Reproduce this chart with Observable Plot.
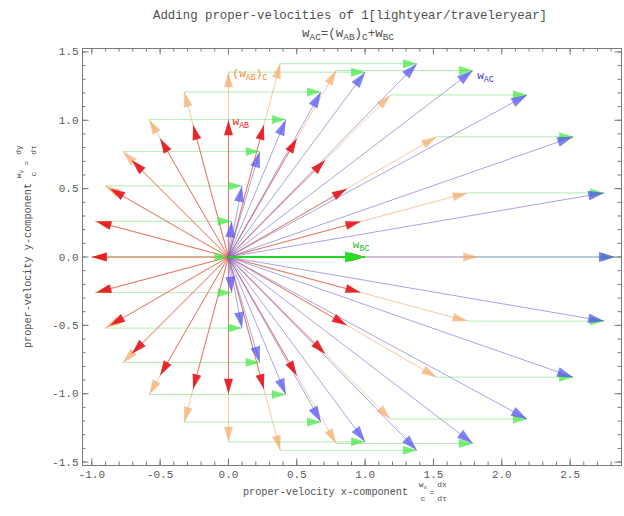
<!DOCTYPE html>
<html><head><meta charset="utf-8">
<script src="https://cdn.jsdelivr.net/npm/d3@7"></script>
<script src="https://cdn.jsdelivr.net/npm/@observablehq/plot@0.6"></script>
<style>
html,body{margin:0;padding:0;background:#fff;}
#chart{width:624px;height:516px;}
</style></head><body><div id="chart"></div>
<script>
// ---- data ----
const angles  = [0,15,30,45,60,75,90,105,120,135,150,165,180,195,210,225,240,255,270,285,300,315,330,345];
// w_AB : red arrows
const redX    = [1,0.966,0.866,0.707,0.5,0.259,0,-0.259,-0.5,-0.707,-0.866,-0.966,-1,-0.966,-0.866,-0.707,-0.5,-0.259,0,0.259,0.5,0.707,0.866,0.966];
const redY    = [0,0.259,0.5,0.707,0.866,0.966,1,0.966,0.866,0.707,0.5,0.259,0,-0.259,-0.5,-0.707,-0.866,-0.966,-1,-0.966,-0.866,-0.707,-0.5,-0.259];
// (w_AB)_C : orange arrows
const orangeX = [1.828,1.749,1.522,1.185,0.788,0.379,0,-0.323,-0.580,-0.771,-0.901,-0.976,-1,-0.976,-0.901,-0.771,-0.580,-0.323,0,0.379,0.788,1.185,1.522,1.749];
const orangeY = [0,0.469,0.879,1.185,1.364,1.414,1.352,1.207,1.005,0.771,0.520,0.261,0,-0.261,-0.520,-0.771,-1.005,-1.207,-1.352,-1.414,-1.364,-1.185,-0.879,-0.469];
// w_AC : blue arrows
const blueX   = [2.828,2.749,2.522,2.185,1.788,1.379,1,0.677,0.420,0.229,0.099,0.024,0,0.024,0.099,0.229,0.420,0.677,1,1.379,1.788,2.185,2.522,2.749];
const blueY   = [0,0.469,0.879,1.185,1.364,1.414,1.352,1.207,1.005,0.771,0.520,0.261,0,-0.261,-0.520,-0.771,-1.005,-1.207,-1.352,-1.414,-1.364,-1.185,-0.879,-0.469];
// w_BC : main green arrow
const originX = 0, originY = 0;
const wBCx = [1], wBCy = [0];
// labels
const labelText = ["w_{AB}", "(w_{AB})_{C}", "w_{AC}", "w_{BC}"];
const labelX    = [0.03, 0.03, 1.82, 0.91];
const labelY    = [0.99, 1.34, 1.33, 0.09];
const labelColor= ["#e01818", "#f08a30", "#3a3ad8", "#22bb22"];
// ticks
const xMajor = [-1, -0.5, 0, 0.5, 1, 1.5, 2, 2.5];
const yMajor = [-1.5, -1, -0.5, 0, 0.5, 1, 1.5];
const xMinor = [-1.0,-0.9,-0.8,-0.7,-0.6,-0.5,-0.4,-0.3,-0.2,-0.1,0,0.1,0.2,0.3,0.4,0.5,0.6,0.7,0.8,0.9,1.0,1.1,1.2,1.3,1.4,1.5,1.6,1.7,1.8,1.9,2.0,2.1,2.2,2.3,2.4,2.5,2.6,2.7,2.8];
const yMinor = [-1.5,-1.4,-1.3,-1.2,-1.1,-1.0,-0.9,-0.8,-0.7,-0.6,-0.5,-0.4,-0.3,-0.2,-0.1,0,0.1,0.2,0.3,0.4,0.5,0.6,0.7,0.8,0.9,1.0,1.1,1.2,1.3,1.4,1.5];
const titleText = "Adding proper-velocities of 1[lightyear/traveleryear]";
const subtitleText = "w_{AC}=(w_{AB})_{C}+w_{BC}";
const xLabelText = "proper-velocity x-component";
const yLabelText = "proper-velocity y-component";

// ---- layout ----
const W = 624, H = 516, mL = 82, mR = 3, mT = 48, mB = 51;
const iw = W - mL - mR, ih = H - mT - mB;
const xDomain = [-1.068, 2.876], yDomain = [-1.525, 1.525];
const kx = iw / (xDomain[1] - xDomain[0]), ky = ih / (yDomain[1] - yDomain[0]);
const rot = (dx, dy) => Math.atan2(-dy * ky, dx * kx) * 180 / Math.PI;

function head(L, Wd) {
  return {draw(ctx) { ctx.moveTo(0, 0); ctx.lineTo(-L, -Wd / 2); ctx.lineTo(-L, Wd / 2); ctx.closePath(); }};
}

const rows = angles.map((a, i) => ({a, rx: redX[i], ry: redY[i], ox: orangeX[i], oy: orangeY[i], bx: blueX[i], by: blueY[i]}));
const blueRows = rows.filter(d => Math.hypot(d.bx, d.by) > 1e-6);
const mainRows = wBCx.map((x, i) => ({x, y: wBCy[i]}));
const labels = labelText.map((t, i) => ({t, x: labelX[i], y: labelY[i], c: labelColor[i]}));

const gray = "#7a7a7a";
const fmt = d => d.toFixed(1);

const chart = Plot.plot({
  width: W, height: H,
  marginLeft: mL, marginRight: mR, marginTop: mT, marginBottom: mB,
  style: {fontFamily: "'Liberation Mono', 'DejaVu Sans Mono', monospace", fontSize: "11px", color: "#5a5a5a", background: "#fff"},
  x: {domain: xDomain, ticks: xMajor, tickFormat: fmt, tickSize: 0, tickPadding: 5, label: null},
  y: {domain: yDomain, ticks: yMajor, tickFormat: fmt, tickSize: 0, tickPadding: 4, label: null},
  marks: [
    // shafts
    Plot.link(rows, {x1: d => originX, y1: d => originY, x2: "ox", y2: "oy", stroke: "#f2a766", strokeOpacity: 0.6, strokeWidth: 1}),
    Plot.link(rows, {x1: "ox", y1: "oy", x2: "bx", y2: "by", stroke: "#6fe06f", strokeOpacity: 0.55, strokeWidth: 1}),
    Plot.link(rows, {x1: d => originX, y1: d => originY, x2: "rx", y2: "ry", stroke: "#e03a3a", strokeOpacity: 0.6, strokeWidth: 1}),
    Plot.link(blueRows, {x1: d => originX, y1: d => originY, x2: "bx", y2: "by", stroke: "#6a6ad8", strokeOpacity: 0.6, strokeWidth: 1}),
    // heads
    Plot.dot(rows, {x: "ox", y: "oy", symbol: head(15, 9), r: 5, fill: "#f3a560", fillOpacity: 0.65, rotate: d => rot(d.ox, d.oy)}),
    Plot.dot(rows, {x: "rx", y: "ry", symbol: head(15, 9), r: 5, fill: "#e4141a", fillOpacity: 0.9, rotate: d => rot(d.rx, d.ry)}),
    Plot.dot(rows, {x: "bx", y: "by", symbol: head(14, 9), r: 5, fill: "#3ee83e", fillOpacity: 0.7, rotate: d => 0}),
    Plot.dot(blueRows, {x: "bx", y: "by", symbol: head(16, 10), r: 5, fill: "#4f4ff0", fillOpacity: 0.7, rotate: d => rot(d.bx, d.by)}),
    // main w_BC
    Plot.link(mainRows, {x1: d => originX, y1: d => originY, x2: "x", y2: "y", stroke: "#22d622", strokeWidth: 2}),
    Plot.dot(mainRows, {x: "x", y: "y", symbol: head(20, 11), r: 5, fill: "#22e022", rotate: d => rot(d.x, d.y)}),
    // labels
    Plot.text(labels, {x: "x", y: "y", text: "t", fill: "c", textAnchor: "start", fontSize: 11}),
    // frame + ticks (inward, all four sides)
    Plot.frame({stroke: gray}),
    Plot.ruleX(xMinor, {stroke: gray, insetTop: ih - 3.5}),
    Plot.ruleX(xMinor, {stroke: gray, insetBottom: ih - 3.5}),
    Plot.ruleX(xMajor, {stroke: gray, insetTop: ih - 6.5}),
    Plot.ruleX(xMajor, {stroke: gray, insetBottom: ih - 6.5}),
    Plot.ruleY(yMinor, {stroke: gray, insetRight: iw - 3.5}),
    Plot.ruleY(yMinor, {stroke: gray, insetLeft: iw - 3.5}),
    Plot.ruleY(yMajor, {stroke: gray, insetRight: iw - 6.5}),
    Plot.ruleY(yMajor, {stroke: gray, insetLeft: iw - 6.5})
  ]
});

const NS = "http://www.w3.org/2000/svg";
function subscriptify(el, shift) {
  const s = el.textContent;
  if (!s.includes("_{")) return;
  const parts = s.split(/(_\{[^}]*\})/).filter(p => p);
  el.textContent = "";
  let down = false;
  for (const p of parts) {
    const t = document.createElementNS(NS, "tspan");
    if (p.startsWith("_{")) {
      t.textContent = p.slice(2, -1);
      t.setAttribute("font-size", "75%");
      if (!down) t.setAttribute("dy", shift);
      down = true;
    } else {
      t.textContent = p;
      if (down) t.setAttribute("dy", -shift);
      down = false;
    }
    el.appendChild(t);
  }
}
const svg = chart.tagName.toLowerCase() === "svg" ? chart : chart.querySelector("svg");
svg.querySelectorAll("text").forEach(el => subscriptify(el, 3));

function addText(str, attrs) {
  const t = document.createElementNS(NS, "text");
  t.textContent = str;
  for (const k in attrs) if (k !== "shift") t.setAttribute(k, attrs[k]);
  svg.appendChild(t);
  subscriptify(t, attrs.shift || 3);
  return t;
}
const mono = "'Liberation Mono', 'DejaVu Sans Mono', monospace";
const tc = "#505050";
addText(titleText, {x: 350, y: 19, "text-anchor": "middle", "font-size": 12.4, fill: tc, "font-family": mono});
addText(subtitleText, {x: 348, y: 37, "text-anchor": "middle", "font-size": 12.5, fill: tc, "font-family": mono, shift: 3});
// x-axis label
addText(xLabelText, {x: 243, y: 495, "text-anchor": "start", "font-size": 10.2, fill: tc, "font-family": mono});
addText("w_{x}", {x: 423, y: 487, "text-anchor": "middle", "font-size": 8, fill: tc, "font-family": mono, shift: 2});
addText("c", {x: 423, y: 501, "text-anchor": "middle", "font-size": 8, fill: tc, "font-family": mono});
addText("=", {x: 432, y: 495, "text-anchor": "middle", "font-size": 8, fill: tc, "font-family": mono});
addText("dx", {x: 442, y: 487, "text-anchor": "middle", "font-size": 8, fill: tc, "font-family": mono});
addText("dτ", {x: 442, y: 501, "text-anchor": "middle", "font-size": 8, fill: tc, "font-family": mono});
// y-axis label
addText(yLabelText, {transform: "translate(31,348) rotate(-90)", "text-anchor": "start", "font-size": 10.2, fill: tc, "font-family": mono});
addText("w_{y}", {transform: "translate(21,174) rotate(-90)", "text-anchor": "middle", "font-size": 8, fill: tc, "font-family": mono, shift: 2});
addText("c", {transform: "translate(36,174) rotate(-90)", "text-anchor": "middle", "font-size": 8, fill: tc, "font-family": mono});
addText("=", {transform: "translate(29,163) rotate(-90)", "text-anchor": "middle", "font-size": 8, fill: tc, "font-family": mono});
addText("dy", {transform: "translate(21,150) rotate(-90)", "text-anchor": "middle", "font-size": 8, fill: tc, "font-family": mono});
addText("dτ", {transform: "translate(36,150) rotate(-90)", "text-anchor": "middle", "font-size": 8, fill: tc, "font-family": mono});

document.getElementById("chart").appendChild(chart);
</script></body></html>
